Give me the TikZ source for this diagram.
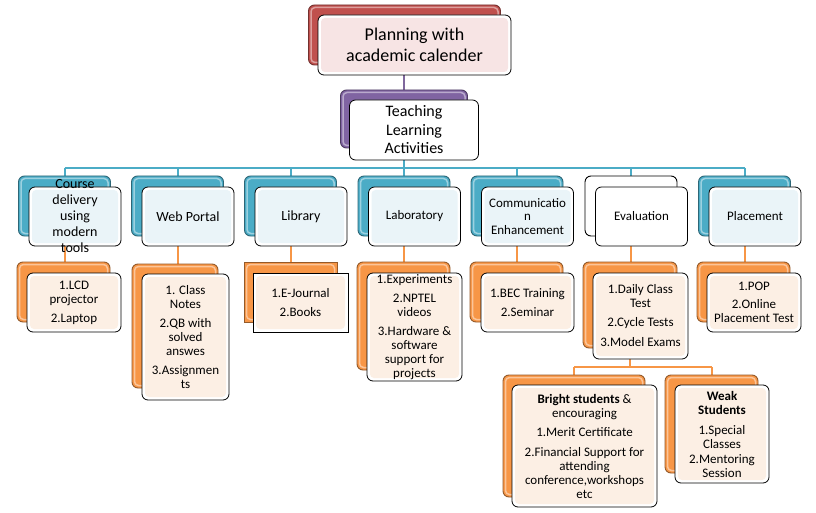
\documentclass[tikz,border=0pt]{standalone}
\usepackage{fontspec}
\setmainfont{Carlito}
\pgfdeclarelayer{bg}
\pgfsetlayers{bg,main}
\definecolor{cRed}{HTML}{C0504D}
\definecolor{cPur}{HTML}{8064A2}
\definecolor{cBlue}{HTML}{4BACC6}
\definecolor{cOra}{HTML}{F79646}
\definecolor{fPink}{HTML}{F7E4E4}
\definecolor{fBlue}{HTML}{EAF4F8}
\definecolor{fPeach}{HTML}{FCEFE4}
\tikzset{
  backbox/.style={draw=#1!60!black, fill=#1, line width=0.9pt, rounded corners=6pt, inner sep=0pt,
    path picture={\draw[#1!55!white, line width=1.5pt, rounded corners=4pt]
      ([shift={(2.5pt,-2.5pt)}]path picture bounding box.north west) rectangle
      ([shift={(-2.5pt,2.5pt)}]path picture bounding box.south east);}},
  plainback/.style={draw=black, fill=white, line width=0.9pt, rounded corners=6pt, inner sep=0pt},
  frontbox/.style={draw=black, fill=white, line width=0.8pt, rounded corners=6pt, inner sep=0pt,
    path picture={\fill[#1, rounded corners=4pt]
      ([shift={(3pt,-3pt)}]path picture bounding box.north west) rectangle
      ([shift={(-3pt,3pt)}]path picture bounding box.south east);}},
  sz/.style 2 args={minimum width=#1pt, minimum height=#2pt},
  txt/.style={align=center, inner sep=0pt, font=\fontsize{13}{14}\selectfont},
  blueline/.style={draw=cBlue, line width=2pt},
  oraline/.style={draw=cOra, line width=2pt},
  purline/.style={draw=cPur!85!gray, line width=1.6pt}
}
\begin{document}
\begin{tikzpicture}[x=1pt,y=-1pt]
\useasboundingbox (0,0) rectangle (816,513);
% top
\node[backbox=cRed, sz={192}{60}] (planB) at (404.5,35) {};
\node[frontbox=fPink, sz={193}{60}] (planF) at (414.5,45) {};
\node[txt, font=\fontsize{18}{21}\selectfont] (planT) at (planF) {Planning with\\academic calender};
\node[backbox=cPur, sz={127}{58}] (teachB) at (404,119) {};
\node[frontbox=white, sz={129}{60}] (teachF) at (414,130) {};
\node[txt, font=\fontsize{16}{18.5}\selectfont] (teachT) at (teachF) {Teaching\\Learning\\Activities};
% level 2
\node[backbox=cBlue, sz={92}{60}] (l1b) at (64.5,206) {};
\node[frontbox=fBlue, sz={92}{59}] (l1f) at (75,216.5) {};
\node[txt, font=\fontsize{14}{16}\selectfont] (l1t) at (l1f) {Course\\delivery\\using\\modern\\tools};
\node[backbox=cBlue, sz={92}{60}] (l2b) at (177.5,206) {};
\node[frontbox=fBlue, sz={92}{59}] (l2f) at (188,216.5) {};
\node[txt, font=\fontsize{14}{16}\selectfont] (l2t) at (l2f) {Web Portal};
\node[backbox=cBlue, sz={92}{60}] (l3b) at (290.5,206) {};
\node[frontbox=fBlue, sz={92}{59}] (l3f) at (301,216.5) {};
\node[txt, font=\fontsize{14}{16}\selectfont] (l3t) at (l3f) {Library};
\node[backbox=cBlue, sz={92}{60}] (l4b) at (404,206) {};
\node[frontbox=fBlue, sz={92}{59}] (l4f) at (414.5,216.5) {};
\node[txt] (l4t) at (l4f) {Laboratory};
\node[backbox=cBlue, sz={92}{60}] (l5b) at (517,206) {};
\node[frontbox=fBlue, sz={92}{59}] (l5f) at (527.5,216.5) {};
\node[txt, font=\fontsize{13}{13.5}\selectfont] (l5t) at (l5f) {Communicatio\\n\\Enhancement};
\node[plainback, sz={92}{60}] (l6b) at (631,206) {};
\node[frontbox=white, sz={92}{59}] (l6f) at (641.5,216.5) {};
\node[txt] (l6t) at (l6f) {Evaluation};
\node[backbox=cBlue, sz={92}{60}] (l7b) at (744.5,206) {};
\node[frontbox=fBlue, sz={92}{59}] (l7f) at (755,216.5) {};
\node[txt] (l7t) at (l7f) {Placement};
% level 3
\node[backbox=cOra, sz={93}{60}] (s1b) at (63.5,292) {};
\node[frontbox=fPeach, sz={94}{59}] (s1f) at (74,302.5) {};
\node[txt] (s1t) at (s1f) {1.LCD\\projector\\[5pt]2.Laptop};
\node[backbox=cOra, sz={86}{124}] (s2b) at (175,326) {};
\node[frontbox=fPeach, sz={87}{126}] (s2f) at (185.5,337) {};
\node[txt] (s2t) at (s2f) {1. Class\\Notes\\[5pt]2.QB with\\solved\\answes\\[5pt]3.Assignmen\\ts};
\node[backbox=cOra, sharp corners, sz={93}{60}] (s3b) at (290.5,292) {};
\node[frontbox=fPeach, sharp corners, sz={95}{59}] (s3f) at (300.5,302.5) {};
\node[txt] (s3t) at (s3f) {1.E-Journal\\[5pt]2.Books};
\node[backbox=cOra, sz={93}{108}] (s4b) at (403.5,316) {};
\node[frontbox=fPeach, sz={95}{108}] (s4f) at (414.5,327) {};
\node[txt] (s4t) at (s4f) {1.Experiments\\[5pt]2.NPTEL\\videos\\[5pt]3.Hardware \&\\software\\support for\\projects};
\node[backbox=cOra, sz={93}{60}] (s5b) at (516.5,292) {};
\node[frontbox=fPeach, sz={93}{59}] (s5f) at (527.5,302.5) {};
\node[txt] (s5t) at (s5f) {1.BEC Training\\[5pt]2.Seminar};
\node[backbox=cOra, sz={94}{86}] (s6b) at (630,305) {};
\node[frontbox=fPeach, sz={95}{86}] (s6f) at (640.5,316) {};
\node[txt] (s6t) at (s6f) {1.Daily Class\\Test\\[5pt]2.Cycle Tests\\[6pt]3.Model Exams};
\node[backbox=cOra, sz={93}{60}] (s7b) at (743.5,292) {};
\node[frontbox=fPeach, sz={94}{59}] (s7f) at (754,302.5) {};
\node[txt] (s7t) at (s7f) {1.POP\\[4pt]2.Online\\Placement Test};
\node[backbox=cOra, sz={142}{122}] (s8b) at (574,436) {};
\node[frontbox=fPeach, sz={145}{122}] (s8f) at (584.5,446) {};
\node[txt] (s8t) at (s8f) {\textbf{Bright students} \&\\encouraging\\[5pt]1.Merit Certificate\\[6pt]2.Financial Support for\\attending\\conference,workshops\\etc};
\node[backbox=cOra, sz={93}{98}] (s9b) at (711.5,424) {};
\node[frontbox=fPeach, sz={94}{98}] (s9f) at (722,434) {};
\node[txt] (s9t) at (s9f) {\textbf{Weak}\\\textbf{Students}\\[6pt]1.Special\\Classes\\[1pt]2.Mentoring\\Session};
\coordinate (bus) at (404,168);
\coordinate (evbus) at (631,367);
\begin{pgfonlayer}{bg}
\fill[white] (0,0) rectangle (816,513);
\draw[purline] (teachB.north |- planF.south) -- (teachB.north);
\draw[blueline] (teachB.center |- teachF.south) -- (bus);
\draw[blueline] (l1b.north |- bus) -- (l7b.north |- bus);
\foreach \n in {1,...,7}{
  \draw[blueline] (l\n b.north |- bus) -- (l\n b.north);
  \draw[oraline] (l\n b.center |- l\n f.south) -- (l\n b.center |- s\n b.north);
}
\draw[oraline] (s6b.center |- s6f.south) -- (s6b.center |- evbus);
\draw[oraline] (s8b.north |- evbus) -- (s9b.north |- evbus);
\draw[oraline] (s8b.north |- evbus) -- (s8b.north);
\draw[oraline] (s9b.north |- evbus) -- (s9b.north);
\end{pgfonlayer}
\end{tikzpicture}
\end{document}
